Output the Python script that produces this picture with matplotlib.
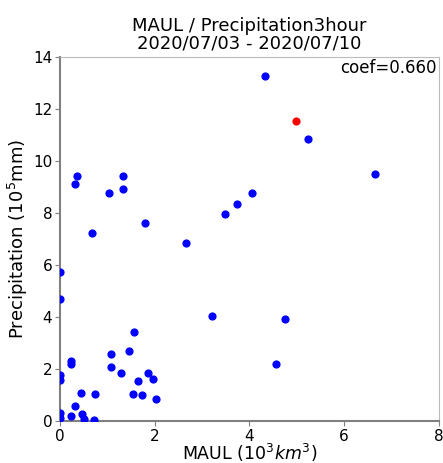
import numpy as np
import matplotlib
matplotlib.use("Agg")
import matplotlib.pyplot as plt

# MAUL (10^3 km^3) vs precipitation (10^5 mm)
maul = [4.32, 5.23, 6.65, 4.05, 3.73, 3.48, 2.66, 3.21, 4.75, 4.56,
        0.36, 0.32, 0.67, 1.04, 1.34, 1.33, 1.79,
        0.0, 0.0, 1.56, 1.47, 1.09, 0.23, 0.23, 1.08, 1.29, 1.87, 1.96, 1.65,
        0.0, 0.0, 0.44, 0.74, 1.55, 1.74, 2.03, 0.32,
        0.0, 0.0, 0.23, 0.47, 0.52, 0.72]
precip = [13.25, 10.85, 9.5, 8.77, 8.35, 7.96, 6.85, 4.04, 3.92, 2.19,
          9.42, 9.13, 7.23, 8.75, 9.42, 8.91, 7.6,
          5.73, 4.68, 3.41, 2.69, 2.59, 2.32, 2.2, 2.09, 1.86, 1.86, 1.6, 1.54,
          1.77, 1.58, 1.09, 1.04, 1.03, 1.0, 0.85, 0.58,
          0.3, 0.12, 0.19, 0.28, 0.08, 0.05]
# latest value, highlighted
last_maul = 4.98
last_precip = 11.54
coef = 0.660

fig = plt.figure(figsize=(4.43, 4.63), dpi=100)
ax = fig.add_axes([0.135, 0.091, 0.856, 0.786])

ax.scatter(maul, precip, s=24, c="blue", zorder=3)
ax.scatter([last_maul], [last_precip], s=24, c="red", zorder=4)

ax.set_xlim(0, 8)
ax.set_ylim(0, 14)
ax.set_xticks([0, 2, 4, 6, 8])
ax.set_yticks([0, 2, 4, 6, 8, 10, 12, 14])

for side in ["left", "bottom"]:
    ax.spines[side].set_color("gray")
    ax.spines[side].set_linewidth(1.5)
for side in ["top", "right"]:
    ax.spines[side].set_color("#bbbbbb")
ax.tick_params(colors="gray", labelcolor="black", labelsize=11, pad=2)

ax.text(0.995, 0.995, "coef=%.3f" % coef, transform=ax.transAxes,
        ha="right", va="top", fontsize=12)

ax.set_title("MAUL / Precipitation3hour\n2020/07/03 - 2020/07/10", fontsize=13,
             linespacing=1.0)
ax.set_xlabel("MAUL ($10^3 km^3$)", fontsize=12.5, labelpad=-1)
ax.set_ylabel("Precipitation (10$^5$mm)", fontsize=13, labelpad=2)

fig.savefig("out.png", dpi=100)
